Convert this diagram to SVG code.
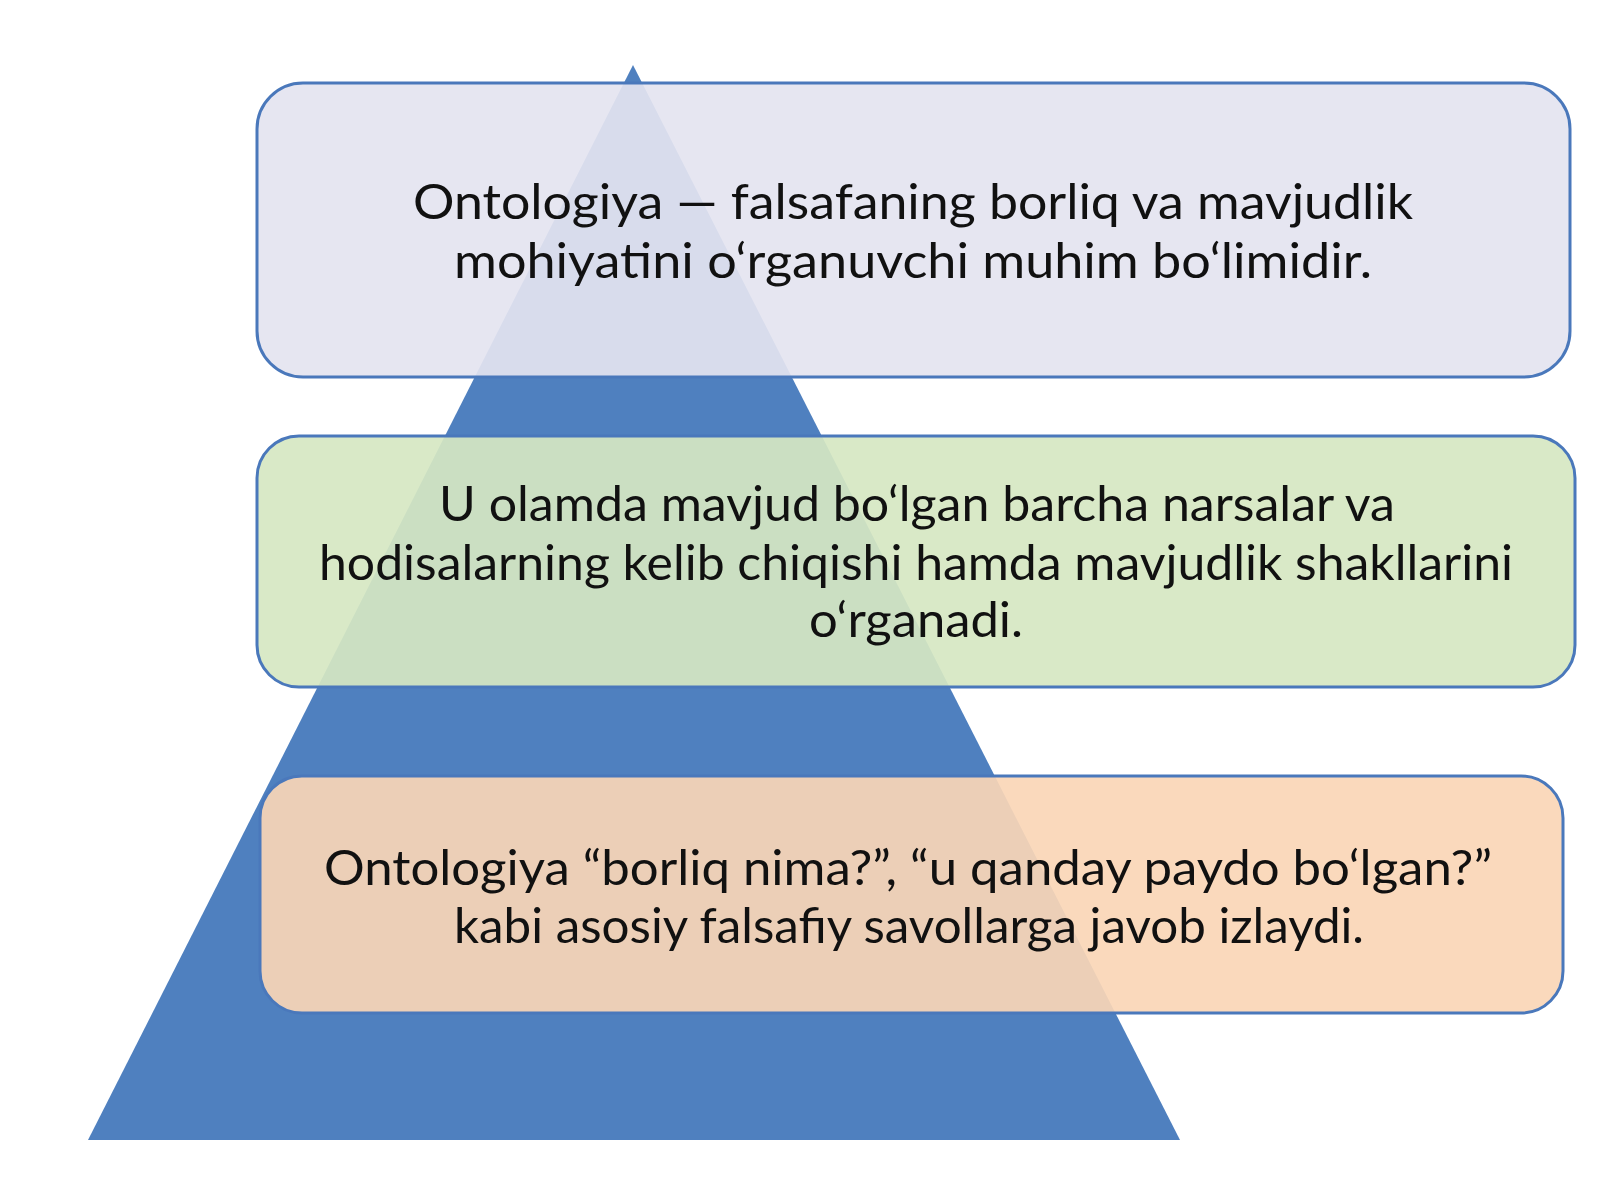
<svg xmlns="http://www.w3.org/2000/svg" width="1600" height="1200" viewBox="0 0 1600 1200">
<style>
.box{stroke:#4a78bb;stroke-width:3;fill-opacity:0.92}
.t{font-family:Lato,"Open Sans","DejaVu Sans",sans-serif;font-size:48px;fill:#111;text-anchor:middle}
</style>
<rect width="1600" height="1200" fill="#ffffff"/>
<g id="pyramid">
<polygon points="633,65 1180,1140 88,1140" fill="#4f80bf"/>
</g>
<g id="connectors"></g>
<g id="box1">
<rect class="box" x="257" y="83" width="1313" height="294" rx="46" ry="46" fill="#e4e4f0"/>
<text class="t" x="913" y="219" textLength="1000" lengthAdjust="spacingAndGlyphs">Ontologiya — falsafaning borliq va mavjudlik</text>
<text class="t" x="913" y="278" textLength="918" lengthAdjust="spacingAndGlyphs">mohiyatini o‘rganuvchi muhim bo‘limidir.</text>
</g>
<g id="box2">
<rect class="box" x="257" y="436" width="1318" height="251" rx="42" ry="42" fill="#d6e7c2"/>
<text class="t" x="917" y="521" textLength="956" lengthAdjust="spacingAndGlyphs">U olamda mavjud bo‘lgan barcha narsalar va</text>
<text class="t" x="916" y="580" textLength="1194" lengthAdjust="spacingAndGlyphs">hodisalarning kelib chiqishi hamda mavjudlik shakllarini</text>
<text class="t" x="916" y="637" textLength="214" lengthAdjust="spacingAndGlyphs">o‘rganadi.</text>
</g>
<g id="box3">
<rect class="box" x="260" y="776" width="1303" height="237" rx="42" ry="42" fill="#fad6b6"/>
<text class="t" x="908" y="885" textLength="1168" lengthAdjust="spacingAndGlyphs">Ontologiya “borliq nima?”, “u qanday paydo bo‘lgan?”</text>
<text class="t" x="909" y="943" textLength="910" lengthAdjust="spacingAndGlyphs">kabi asosiy falsafiy savollarga javob izlaydi.</text>
</g>
</svg>
